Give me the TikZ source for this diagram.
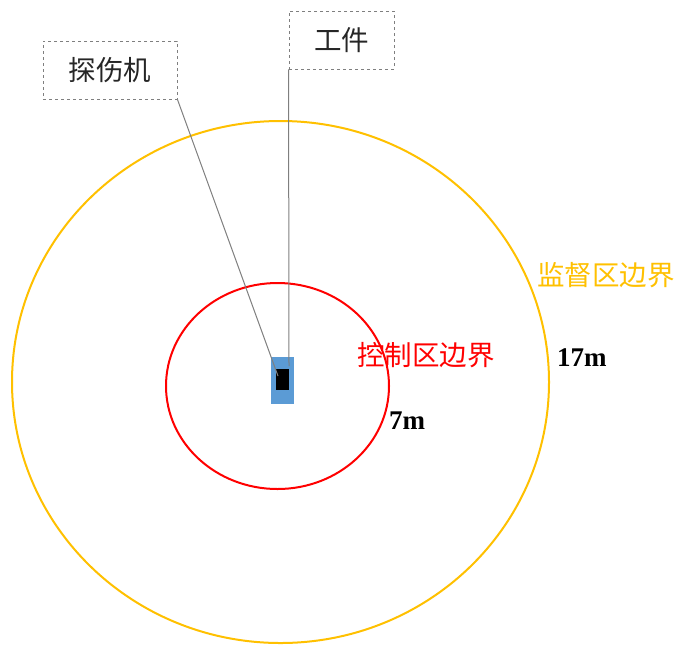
\documentclass[tikz,border=0pt]{standalone}
\usepackage{fontspec}
\setmainfont{Liberation Serif}
\newfontfamily\cjk{Noto Sans CJK SC}[Scale=1]
\definecolor{gold}{HTML}{FFC000}
\definecolor{boxgray}{HTML}{7F7F7F}
\definecolor{blueb}{HTML}{5B9BD5}
\begin{document}
\begin{tikzpicture}[x=1pt,y=-1pt,
  labelbox/.style={draw=boxgray, dashed, line width=0.9pt, inner sep=0pt, font=\cjk\fontsize{27.5}{32}\selectfont\color{black!85}},
  leader/.style={draw=boxgray, line width=1pt},
  dist/.style={font=\bfseries\fontsize{27}{31}\selectfont},
  zonelab/.style={font=\cjk\fontsize{27.5}{32}\selectfont, anchor=west, inner sep=0pt}]
\useasboundingbox (0,0) rectangle (679,646);
% zones
\draw[gold, line width=2pt] (280.5,382) ellipse [x radius=268.5, y radius=261];
\draw[red, line width=2pt] (277.5,386) ellipse [x radius=111.5, y radius=103];
% machine
\node[fill=blueb, minimum width=23pt, minimum height=47pt, inner sep=0pt] (mach) at (282.5,380.5) {};
\node[fill=black, minimum width=13pt, minimum height=21pt, inner sep=0pt] (work) at (282.5,379) {};
\coordinate (mp) at (278,376);
\coordinate (wp) at (289,366);
% label boxes
\node[labelbox, minimum width=134pt, minimum height=58pt] (tsj) at (110,70) {探伤机};
\node[labelbox, minimum width=105pt, minimum height=58pt] (gj) at (341.5,40) {工件};
\draw[leader] (tsj.south east) -- (mp);
\draw[leader] (gj.south west) -- (wp);
% zone labels
\node[zonelab, text=gold] (jd) at (537,275) {监督区边界};
\node[zonelab, text=red] (kz) at (357,355) {控制区边界};
\node[dist, anchor=west, inner sep=0pt] (d17) at (557,358) {17m};
\node[dist, anchor=west, inner sep=0pt] (d7) at (389,421) {7m};
\end{tikzpicture}
\end{document}
